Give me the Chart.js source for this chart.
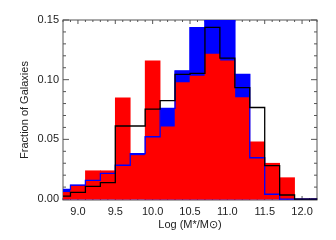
<!DOCTYPE html>
<html><head><meta charset="utf-8">
<script src="https://cdn.jsdelivr.net/npm/chart.js@4.4.1/dist/chart.umd.min.js"></script>
<style>html,body{margin:0;padding:0;background:#fff}#wrap{width:336px;height:240px}</style>
</head><body><div id="wrap"><canvas id="c" width="336" height="240"></canvas></div>
<script>
// Bin centres of Log(M*/Msun) (bin width 0.2)
const binCenters  = [8.8, 9.0, 9.2, 9.4, 9.6, 9.8, 10.0, 10.2, 10.4, 10.6, 10.8, 11.0, 11.2, 11.4, 11.6, 11.8, 12.0, 12.2];
// Filled red histogram
const redValues   = [0.0056, 0.011, 0.0237, 0.0237, 0.0849, 0.0365, 0.1157, 0.0606, 0.0975, 0.103, 0.1215, 0.1157, 0.085, 0.048, 0.030, 0.0179, 0, 0];
// Blue histogram (filled behind red, outlined on top)
const blueValues  = [0.008, 0.0117, 0.0157, 0.0215, 0.0283, 0.038, 0.0522, 0.076, 0.1073, 0.1436, 0.16, 0.158, 0.1045, 0.0346, 0.004, 0, 0, 0];
// Black outline histogram
const blackValues = [0.0025, 0.0056, 0.0106, 0.0137, 0.0612, 0.0612, 0.0754, 0.0824, 0.1045, 0.1053, 0.1439, 0.118, 0.0933, 0.0767, 0.028, 0.0034, 0, 0];
const xTickValues = [9.0, 9.5, 10.0, 10.5, 11.0, 11.5, 12.0];
const yTickValues = [0.00, 0.05, 0.10, 0.15];
const xTitle = 'Log (M*/M\u2299)';
const yTitle = 'Fraction of Galaxies';

const pts = vals => binCenters.map((c, i) => ({x: c, y: vals[i]}));
const FONT = {family: '"Liberation Sans", Arial, sans-serif', size: 11};
const TXT = '#222';

const framePlugin = {
  id: 'frame',
  beforeDatasetsDraw(chart) {
    const {ctx, chartArea: a, scales: {x, y}} = chart;
    ctx.save();
    ctx.strokeStyle = '#555';
    ctx.lineWidth = 1;
    ctx.strokeRect(a.left, a.top, a.right - a.left, a.bottom - a.top);
    ctx.beginPath();
    for (let k = 88; k <= 122; k++) {
      const px = x.getPixelForValue(k / 10);
      const len = (k % 5 === 0) ? 4 : 2;
      ctx.moveTo(px, a.bottom); ctx.lineTo(px, a.bottom - len);
      ctx.moveTo(px, a.top); ctx.lineTo(px, a.top + len);
    }
    for (let k = 0; k <= 15; k++) {
      const py = y.getPixelForValue(k / 100);
      const len = (k % 5 === 0) ? 6 : 3;
      ctx.moveTo(a.left, py); ctx.lineTo(a.left + len, py);
      ctx.moveTo(a.right, py); ctx.lineTo(a.right - len, py);
    }
    ctx.stroke();
    ctx.restore();
  }
};

new Chart(document.getElementById('c'), {
  type: 'bar',
  data: {
    datasets: [
      {type: 'line', data: pts(blackValues), borderColor: '#000', borderWidth: 1.3, stepped: 'middle', pointRadius: 0, fill: false, order: 1},
      {type: 'line', data: pts(blueValues), borderColor: '#0000ff', borderWidth: 1.3, stepped: 'middle', pointRadius: 0, fill: false, order: 2},
      {type: 'bar', data: pts(redValues), backgroundColor: '#ff0000', borderWidth: 0, barPercentage: 1, categoryPercentage: 1, grouped: false, order: 3},
      {type: 'bar', data: pts(blueValues), backgroundColor: '#0000ff', borderWidth: 0, barPercentage: 1, categoryPercentage: 1, grouped: false, order: 4}
    ]
  },
  options: {
    responsive: false,
    animation: false,
    devicePixelRatio: 1,
    layout: {padding: {top: 20, right: 19, left: 0, bottom: 0}},
    plugins: {legend: {display: false}, tooltip: {enabled: false}},
    scales: {
      x: {
        type: 'linear', min: 8.8, max: 12.2, offset: false,
        grid: {display: false, drawTicks: false}, border: {display: false},
        afterBuildTicks: s => { s.ticks = xTickValues.map(v => ({value: v})); },
        afterFit: s => { s.height = 40; },
        ticks: {callback: v => Number(v).toFixed(1), font: FONT, color: TXT, padding: 5, maxRotation: 0, autoSkip: false},
        title: {display: true, text: xTitle, font: FONT, color: TXT, padding: {top: 0, bottom: 8}}
      },
      y: {
        min: -0.0008, max: 0.15,
        grid: {display: false, drawTicks: false}, border: {display: false},
        afterBuildTicks: s => { s.ticks = yTickValues.map(v => ({value: v})); },
        afterFit: s => { s.width = 63; },
        ticks: {callback: v => Number(v).toFixed(2), font: FONT, color: TXT, padding: 4, autoSkip: false},
        title: {display: true, text: yTitle, font: FONT, color: TXT, padding: {top: 18, bottom: 0}}
      }
    }
  },
  plugins: [framePlugin]
});
</script>
</body></html>
